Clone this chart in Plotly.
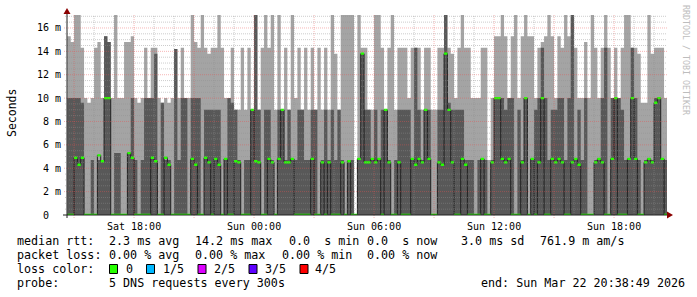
import numpy as np
import plotly.graph_objects as go

# ---------------- data (ms), 10-minute columns starting Sat 14:40 ----------------
start_hour = 14 + 40 / 60
step_hour = 10 / 60

# top of the light smoke (largest ping)
ping_max = [
    15.3, 14.8, 17.1, 17.1, 14.3, 10, 9.6, 10, 14.3, 14.8,
    10, 15.3, 14.8, 10, 17.1, 10, 10, 14.8, 14.8, 15.3,
    10, 9.6, 10, 14.3, 10, 14.3, 14.3, 10, 9.6, 10,
    9.6, 10, 14.2, 10, 14.3, 10, 10, 17.1, 14.8, 14.3,
    17.1, 14.3, 13.8, 14.3, 14.3, 17.1, 14.3, 10, 10, 14.3,
    9, 9, 14.3, 9, 14.3, 9, 17.1, 9, 14.3, 17.1,
    14.3, 17.1, 9, 17.1, 9, 14.3, 9, 17.1, 10, 14.3,
    9, 14.3, 9, 14.3, 9, 14.3, 9, 14.3, 9, 17.1,
    13.8, 9, 17.1, 17.1, 17.1, 17.1, 0, 17.1, 14.3, 14.3,
    9, 9, 17.1, 17.1, 14.3, 9, 14.3, 17.1, 9, 14.3,
    14.3, 14.3, 10, 14.3, 14.3, 14.3, 9, 14.3, 14.3, 9,
    9, 14.3, 14.3, 17.1, 14.3, 13.8, 10, 14.3, 17.1, 14.3,
    14.3, 10, 10, 10, 14.3, 14.3, 4.7, 10, 15.3, 15.3,
    17.1, 15.3, 10, 15.3, 17.1, 10, 15.3, 17.1, 15.3, 15.3,
    10, 14.3, 14.8, 15.3, 17.1, 15.3, 10, 15.3, 14.3, 17.1,
    15.3, 17.1, 14.3, 10, 10, 14.8, 10, 17.1, 14.3, 10,
    14.3, 17.1, 14.3, 10, 14.3, 10, 14.3, 17.1, 17.1, 14.3,
    14.3, 13.8, 9.6, 9.6, 17.1, 13.8, 14.3, 14.3, 14.3, 10,
]

# top of the dark smoke (4th ping)
ping_q4 = [
    10, 10, 10, 10, 9.6, 0, 0, 4.7, 0, 4.7,
    4.7, 15.3, 14.8, 0, 5.3, 5.3, 0, 0, 5.3, 10,
    4.7, 0, 4.7, 10, 10, 10, 13.8, 0, 9.6, 4.7,
    4.7, 0, 14.2, 4.7, 10, 10, 0, 10, 10, 10,
    0, 9, 9, 9, 9, 9, 0, 4.7, 10, 9.6,
    9, 4.7, 0, 4.7, 4.7, 9, 17.1, 9, 0, 9,
    9, 4.7, 0, 9, 9, 4.7, 9, 4.7, 4.7, 9,
    9, 4.7, 4.7, 9, 9, 0, 4.7, 9, 4.7, 9,
    4.7, 9, 4.7, 0, 4.7, 4.7, 0, 4.7, 13.8, 9,
    9, 4.7, 9, 4.7, 9, 9, 4.7, 0, 4.7, 9,
    9, 9, 9, 4.7, 14.3, 9, 4.7, 9, 9, 0,
    0, 9, 9, 17.1, 9.6, 9, 9, 9, 9, 4.7,
    4.7, 4.7, 0, 4.7, 4.7, 4.7, 0, 4.7, 10, 10,
    10, 9, 10, 10, 0, 9, 4.7, 10, 0, 4.7,
    9, 10, 14.3, 10, 4.7, 9, 9, 10, 10, 4.7,
    10, 17.1, 4.7, 9, 4.7, 10, 0, 0, 4.7, 4.7,
    10, 14.3, 0, 10, 10, 10, 9, 4.7, 4.7, 14.3,
    10, 4.7, 0, 4.7, 4.7, 4.7, 10, 10, 4.7, 4.7,
]

# median rtt
median_rtt = [
    0, 0, 4.9, 4.3, 4.9, 0, 0, 0, 0, 5.1,
    4.6, 10, 10, 0, 0, 0, 0, 0, 5.3, 4.9,
    0, 0, 0, 0, 0, 4.9, 4.6, 0, 0, 4.9,
    4.3, 0, 0, 0, 0, 0, 0, 4.8, 4.3, 0,
    0, 4.9, 4.5, 0, 4.8, 4.3, 0, 4.8, 0, 0,
    4.6, 4.5, 0, 0, 0, 9, 4.6, 4.5, 0, 0,
    4.8, 4.5, 0, 4.8, 9, 4.5, 4.5, 4.8, 0, 0,
    0, 0, 0, 4.8, 0, 0, 4.5, 0, 4.5, 0,
    0, 0, 4.5, 0, 4.6, 0, 0, 4.8, 13.8, 4.5,
    4.5, 4.8, 4.5, 4.8, 0, 9, 4.5, 0, 0, 4.5,
    0, 0, 0, 4.8, 4.3, 4.8, 4.5, 9, 4.8, 0,
    0, 4.5, 4.3, 13.8, 9, 4.5, 0, 0, 4.8, 4.3,
    0, 0, 0, 0, 4.8, 0, 0, 4.5, 10, 10,
    4.8, 4.5, 4.8, 0, 0, 0, 4.5, 10, 0, 4.8,
    0, 4.5, 10, 0, 0, 4.8, 4.5, 4.8, 4.5, 0,
    0, 4.5, 4.8, 4.3, 0, 0, 0, 0, 4.5, 4.8,
    4.5, 0, 0, 4.8, 10, 0, 0, 0, 4.8, 10,
    4.8, 0, 0, 4.5, 4.8, 4.5, 9.6, 10, 4.8, 0,
]

x_tick_hours = [18, 24, 30, 36, 42]
x_tick_text = ["Sat 18:00", "Sun 00:00", "Sun 06:00", "Sun 12:00", "Sun 18:00"]
y_tick_vals = [0, 2, 4, 6, 8, 10, 12, 14, 16]
y_tick_text = ["0\u00a0\u00a0", "2 m", "4 m", "6 m", "8 m", "10 m", "12 m", "14 m", "16 m"]

legend_rows = [
    [("median rtt:", 16), ("2.3 ms avg", 108), ("14.2 ms max", 194), ("0.0\u00a0\u00a0s min", 288),
     ("0.0\u00a0\u00a0s now", 366), ("3.0 ms sd", 460), ("761.9 m am/s", 539)],
    [("packet loss:", 16), ("0.00 % avg", 108), ("0.00 % max", 194), ("0.00 % min", 281),
     ("0.00 % now", 366)],
    [("loss color:", 16)],
    [("probe:", 16), ("5 DNS requests every 300s", 108), ("end: Sun Mar 22 20:38:49 2026", 480)],
]
loss_labels = ["0", "1/5", "2/5", "3/5", "4/5"]
loss_colors = ["#26ff00", "#00b8ff", "#dd00ff", "#5e00ff", "#ff0000"]
loss_box_x = [109.5, 146.5, 198, 249, 300]
loss_text_x = [125, 162, 213, 264, 314]

# ---------------- geometry ----------------
W, H = 697, 297
L_PX, R_PX, T_PX, B_PX = 67, 667, 15, 215
x_start = 14 + 38 / 60 + 49 / 3600
x_end = x_start + 30
y_top = 17.11

def px(x):
    return (x - L_PX) / (R_PX - L_PX)

def py(y):
    return (B_PX - y) / (B_PX - T_PX)

n = len(ping_max)
edges = start_hour + step_hour * np.arange(n + 1)

def steps(v):
    v = list(v)
    return v + [v[-1]]

fig = go.Figure()
fig.add_trace(go.Scatter(x=edges, y=steps(ping_max), mode="lines",
                         line=dict(width=0, shape="hv", color="#a4a4a4"),
                         fill="tozeroy", fillcolor="#a4a4a4", hoverinfo="skip", showlegend=False))
fig.add_trace(go.Scatter(x=edges, y=steps(ping_q4), mode="lines",
                         line=dict(width=0, shape="hv", color="#585858"),
                         fill="tozeroy", fillcolor="#585858", hoverinfo="skip", showlegend=False))
fig.add_trace(go.Scatter(x=edges, y=steps(median_rtt), mode="lines",
                         line=dict(width=1, shape="hv", color="#202020"),
                         hoverinfo="skip", showlegend=False))
sw = 0.1
fig.add_trace(go.Scatter(x=edges, y=steps([m - sw for m in median_rtt]), mode="lines",
                         line=dict(width=0, shape="hv", color="#26ff00"),
                         hoverinfo="skip", showlegend=False))
fig.add_trace(go.Scatter(x=edges, y=steps([m + sw for m in median_rtt]), mode="lines",
                         line=dict(width=0, shape="hv", color="#26ff00"),
                         fill="tonexty", fillcolor="#26ff00", hoverinfo="skip", showlegend=False))

shapes = []
grid_minor = "rgba(143,143,143,0.45)"
grid_major = "rgba(233,80,80,0.42)"
dash = "1px,1px"
# vertical grid
for h in range(15, 45):
    major = (h % 3 == 0)
    shapes.append(dict(type="line", xref="x", yref="paper", x0=h, x1=h,
                       y0=-3 / 200 if major else 0, y1=1, layer="above",
                       line=dict(color=grid_major if major else grid_minor, width=1, dash=dash)))
# horizontal grid
for k in range(1, 35):
    v = k * 0.5
    major = (k % 4 == 0)
    shapes.append(dict(type="line", xref="paper", yref="y", x0=-3 / 600 if major else -2 / 600, x1=1,
                       y0=v, y1=v, layer="above",
                       line=dict(color=grid_major if major else grid_minor, width=1, dash=dash)))
# axes
shapes.append(dict(type="line", xref="paper", yref="paper", x0=px(63), x1=1, y0=0, y1=0,
                   layer="above", line=dict(color="#202020", width=1)))
shapes.append(dict(type="line", xref="paper", yref="paper", x0=0, x1=0, y0=py(218), y1=py(12),
                   layer="above", line=dict(color="#202020", width=1)))
# arrows
shapes.append(dict(type="path", xref="paper", yref="paper", layer="above",
                   path=f"M {px(667)},{py(211.5)} L {px(673)},{py(215)} L {px(667)},{py(218.5)} Z",
                   fillcolor="#8b0000", line=dict(width=0)))
shapes.append(dict(type="path", xref="paper", yref="paper", layer="above",
                   path=f"M {px(63.5)},{py(14)} L {px(67)},{py(8)} L {px(70.5)},{py(14)} Z",
                   fillcolor="#8b0000", line=dict(width=0)))
# loss colour boxes
for bx, col in zip(loss_box_x, loss_colors):
    shapes.append(dict(type="rect", xref="paper", yref="paper", x0=px(bx), x1=px(bx + 8),
                       y0=py(273.5), y1=py(264.5), fillcolor=col, line=dict(color="#000000", width=1)))

mono = "DejaVu Sans Mono"
annotations = []
row_y = [241, 255, 269, 283]
for row, yy in zip(legend_rows, row_y):
    for text, xx in row:
        annotations.append(dict(text=text, xref="paper", yref="paper", x=px(xx - 1), y=py(yy),
                                xanchor="left", yanchor="middle", showarrow=False,
                                font=dict(family=mono, size=11.7, color="#000000")))
for lab, xx in zip(loss_labels, loss_text_x):
    annotations.append(dict(text=lab, xref="paper", yref="paper", x=px(xx - 1), y=py(269),
                            xanchor="left", yanchor="middle", showarrow=False,
                            font=dict(family=mono, size=11.7, color="#000000")))
annotations.append(dict(text="Seconds", xref="paper", yref="paper", x=px(12), y=py(113),
                        xanchor="center", yanchor="middle", textangle=-90, showarrow=False,
                        font=dict(family=mono, size=11.5, color="#000000")))
annotations.append(dict(text="RRDTOOL / TOBI OETIKER", xref="paper", yref="paper", x=px(686), y=py(60),
                        xanchor="center", yanchor="middle", textangle=90, showarrow=False,
                        font=dict(family=mono, size=8.3, color="#bdbdbd")))

fig.update_layout(
    width=W, height=H,
    margin=dict(l=L_PX, r=W - R_PX, t=T_PX, b=H - B_PX, pad=0),
    paper_bgcolor="#ffffff", plot_bgcolor="#ffffff",
    showlegend=False,
    shapes=shapes, annotations=annotations,
    xaxis=dict(range=[x_start, x_end], showgrid=False, zeroline=False, showline=False,
               tickmode="array", tickvals=x_tick_hours, ticktext=x_tick_text, ticks="",
               tickfont=dict(family=mono, size=10, color="#000000"), ticklabelstandoff=4),
    yaxis=dict(range=[0, y_top], showgrid=False, zeroline=False, showline=False,
               tickmode="array", tickvals=y_tick_vals, ticktext=y_tick_text, ticks="",
               tickfont=dict(family=mono, size=10, color="#000000"), ticklabelstandoff=5),
)

fig.write_html("out.html")
